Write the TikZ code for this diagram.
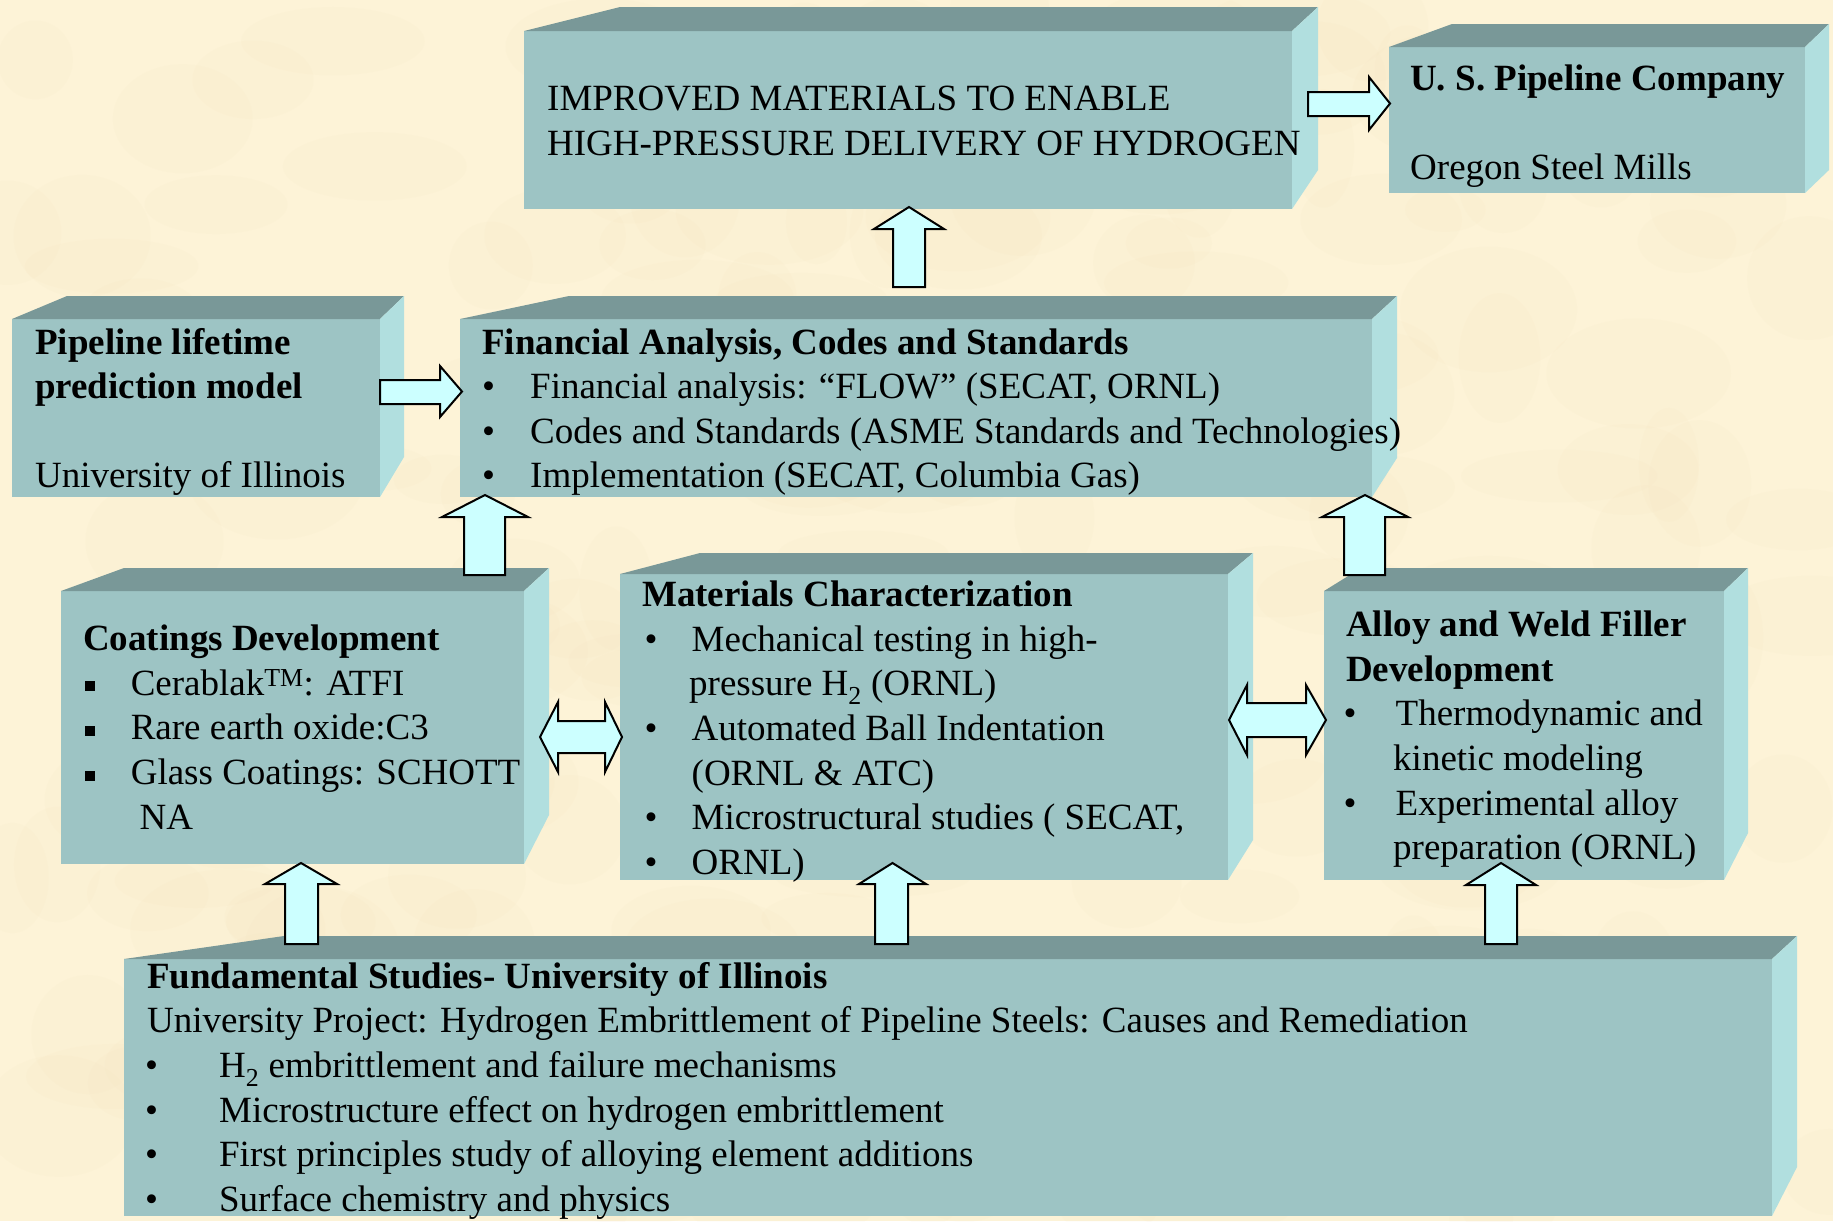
\documentclass[tikz,border=0pt]{standalone}
\usepackage{fontspec}
\setmainfont{Liberation Serif}
\usetikzlibrary{calc}
\definecolor{bg}{RGB}{253,243,215}
\definecolor{mottle}{RGB}{238,222,180}
\definecolor{frontc}{RGB}{157,196,196}
\definecolor{topc}{RGB}{121,152,152}
\definecolor{sidec}{RGB}{177,223,223}
\definecolor{arrfill}{RGB}{204,255,255}
\newcommand\lns[1]{\begin{tabular}[t]{@{}l@{}}#1\end{tabular}}
\newcommand\bul[1]{\makebox[#1][l]{•}}
\newcommand\sqb{\raisebox{4pt}{\rule{10.5pt}{10pt}}}
% cuboid: name, x1,y1,x2,y2, back-left-x, back-top-y, back-right-x, back-bottom-y
\newcommand\cuboid[9]{%
  \node[face, minimum width={(#4-#2)*1pt}, minimum height={(#5-#3)*1pt}] (#1) at (#2,#3) {};
  \fill[topc] (#1.north west) -- (#6,#7) -- (#8,#7) -- (#1.north east) -- cycle;
  \fill[sidec] (#1.north east) -- (#8,#7) -- (#8,#9) -- (#1.south east) -- cycle;}
% up block arrow: shaft left, shaft right, head left, head right, tip y, head base y, bottom y
\newcommand\upblk[7]{\draw[blockarrow] (#1,#7) -- (#1,#6) -- (#3,#6) -- ({(#3+#4)/2},#5) -- (#4,#6) -- (#2,#6) -- (#2,#7) -- cycle;}
% right block arrow: shaft left x, head base x, tip x, shaft top, shaft bottom, head top, head bottom
\newcommand\rtblk[7]{\draw[blockarrow] (#1,#4) -- (#2,#4) -- (#2,#6) -- (#3,{(#6+#7)/2}) -- (#2,#7) -- (#2,#5) -- (#1,#5) -- cycle;}
% double block arrow: left tip, left base, right base, right tip, shaft top, shaft bottom, head top, head bottom
\newcommand\dblblk[8]{\draw[blockarrow] (#1,{(#7+#8)/2}) -- (#2,#7) -- (#2,#5) -- (#3,#5) -- (#3,#7) -- (#4,{(#7+#8)/2}) -- (#3,#8) -- (#3,#6) -- (#2,#6) -- (#2,#8) -- cycle;}
\begin{document}
\begin{tikzpicture}[x=1pt,y=-1pt,
  face/.style={fill=frontc, draw=none, inner sep=0pt, outer sep=0pt, anchor=north west, rectangle},
  txt/.style={inner sep=0pt, anchor=base west, font=\fontsize{37}{44.6}\selectfont, text=black},
  blockarrow/.style={fill=arrfill, draw=black, line width=2pt, line join=miter}]
\useasboundingbox (0,0) rectangle (1833,1221);
\fill[bg] (0,0) rectangle (1833,1221);
% soft mottled paper texture
\pgfmathsetseed{7}
\begin{scope}
\clip (0,0) rectangle (1833,1221);
\foreach \i in {1,...,220}{
  \pgfmathsetmacro\px{rnd*1833}
  \pgfmathsetmacro\py{rnd*1221}
  \pgfmathsetmacro\rx{30+rnd*70}
  \pgfmathsetmacro\ry{20+rnd*45}
  \fill[mottle, opacity=0.07] (\px,\py) ellipse [x radius=\rx, y radius=\ry];
}
\end{scope}

% boxes
\cuboid{imp}{524}{31}{1292}{209}{620}{7}{1318}{170}
\cuboid{usp}{1389}{47}{1805}{193}{1452}{24}{1829}{170}
\cuboid{pipe}{12}{319}{380}{497}{67}{296}{404}{457}
\cuboid{fin}{460}{319}{1372}{497}{569}{296}{1397}{458}
\cuboid{coat}{61}{591}{524}{864}{124}{568}{549}{815}
\cuboid{mat}{620}{574}{1228}{880}{700}{553}{1253}{840}
\cuboid{alloy}{1324}{591}{1724}{880}{1361}{568}{1748}{833}
\cuboid{fund}{124}{959}{1772}{1216}{284}{936}{1797}{1167}

% texts
\node[txt] (impT) at (547,110.7) {\lns{IMPROVED MATERIALS TO ENABLE\\HIGH-PRESSURE DELIVERY OF HYDROGEN}};
\node[txt] (uspT) at (1410,90) {\lns{\textbf{U. S. Pipeline Company}\\ \\Oregon Steel Mills}};
\node[txt] (pipeT) at (35,354) {\lns{\textbf{Pipeline lifetime}\\\textbf{prediction model}\\ \\University of Illinois}};
\node[txt] (finT) at (482,354) {\lns{\textbf{Financial Analysis, Codes and Standards}\\
  \bul{48pt}Financial analysis: “FLOW” (SECAT, ORNL)\\
  \bul{48pt}Codes and Standards (ASME Standards and Technologies)\\
  \bul{48pt}Implementation (SECAT, Columbia Gas)}};
\node[txt] (coatT) at (83,650.7) {\lns{\textbf{Coatings Development}\\
  \makebox[47.6pt][l]{\hspace*{1.5pt}\sqb}Cerablak\textsuperscript{TM}: ATFI\\
  \makebox[47.6pt][l]{\hspace*{1.5pt}\sqb}Rare earth oxide:C3\\
  \makebox[47.6pt][l]{\hspace*{1.5pt}\sqb}Glass Coatings: SCHOTT\\
  \hspace*{56.5pt}NA}};
\node[txt] (matT) at (642,606.7) {\lns{\textbf{Materials Characterization}\\
  \hspace*{2.5pt}\bul{47pt}Mechanical testing in high-\\
  \hspace*{47pt}pressure H\textsubscript{2} (ORNL)\\
  \hspace*{2.5pt}\bul{47pt}Automated Ball Indentation\\
  \hspace*{49.5pt}(ORNL \& ATC)\\
  \hspace*{2.5pt}\bul{47pt}Microstructural studies ( SECAT,\\
  \hspace*{2.5pt}\bul{47pt}ORNL)}};
\node[txt] (alloyT) at (1346,636.7) {\lns{\textbf{Alloy and Weld Filler}\\\textbf{Development}\\
  \hspace*{-2.5pt}\bul{52pt}Thermodynamic and\\
  \hspace*{47pt}kinetic modeling\\
  \hspace*{-2.5pt}\bul{52pt}Experimental alloy\\
  \hspace*{47pt}preparation (ORNL)}};
\node[txt] (fundT) at (147,988.3) {\lns{\textbf{Fundamental Studies- University of Illinois}\\
  University Project: Hydrogen Embrittlement of Pipeline Steels: Causes and Remediation\\
  \hspace*{-2pt}\bul{74pt}H\textsubscript{2} embrittlement and failure mechanisms\\
  \hspace*{-2pt}\bul{74pt}Microstructure effect on hydrogen embrittlement\\
  \hspace*{-2pt}\bul{74pt}First principles study of alloying element additions\\
  \hspace*{-2pt}\bul{74pt}Surface chemistry and physics}};

% block arrows
\upblk{893}{925}{874}{944}{207}{229}{287}
\rtblk{1308}{1369}{1390}{92}{116}{77}{130}
\rtblk{380}{440}{462}{380}{404}{366}{417}
\upblk{464}{505}{442}{528}{495}{517}{575}
\upblk{1344}{1385}{1322}{1408}{495}{517}{575}
\dblblk{540}{558}{605}{622}{721}{753}{702}{772}
\dblblk{1229}{1247}{1306}{1326}{703}{737}{685}{755}
\upblk{285}{318}{265}{337}{863}{884}{944}
\upblk{875}{908}{859}{926}{863}{884}{944}
\upblk{1485}{1517}{1466}{1536}{863}{885}{944}
\end{tikzpicture}
\end{document}
